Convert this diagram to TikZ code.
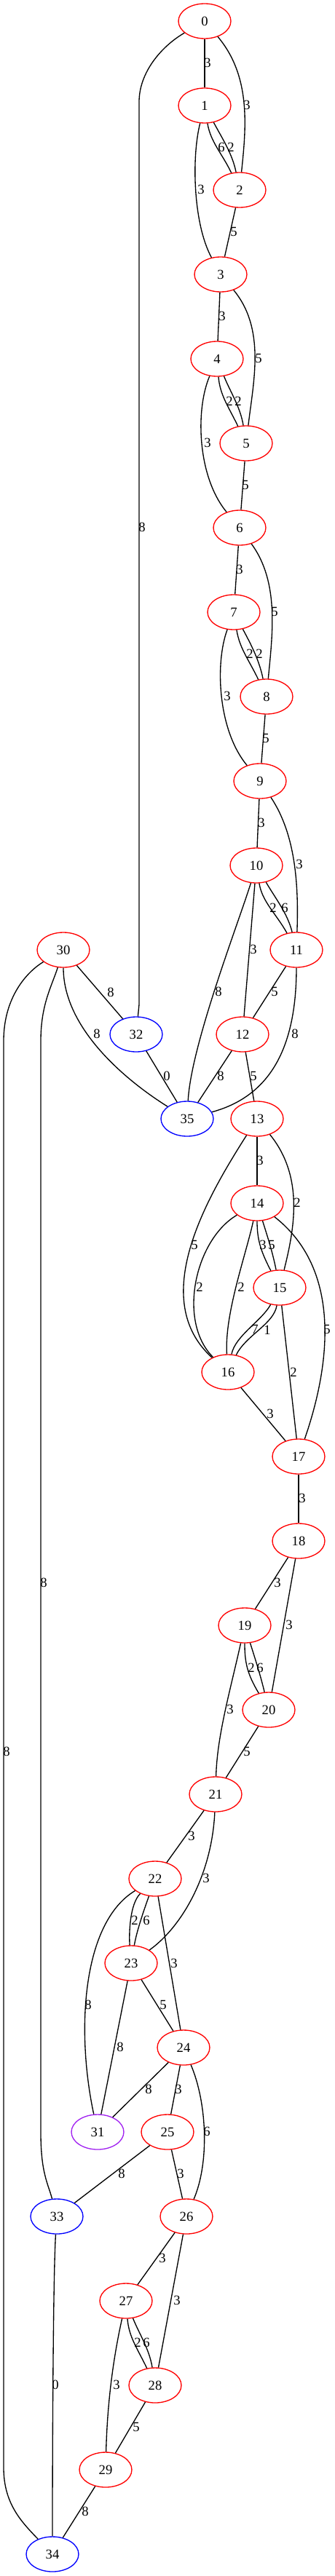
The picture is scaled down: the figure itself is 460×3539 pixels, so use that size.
\documentclass[tikz,border=0pt]{standalone}
\usepackage{fontspec}
\setmainfont{Liberation Serif}
\usetikzlibrary{shapes.geometric}
\definecolor{gvRed}{HTML}{FF0000}
\definecolor{gvBlue}{HTML}{0000FF}
\definecolor{gvPurple}{HTML}{A020F0}

\begin{document}
\begin{tikzpicture}[x=0.75pt,y=-0.75pt,
    font=\fontsize{14}{16}\selectfont,
    vtx/.style={ellipse,draw,line width=1pt,minimum width=54pt,
                minimum height=36pt,inner sep=0pt},
    redv/.style={vtx,draw=gvRed},
    bluev/.style={vtx,draw=gvBlue},
    purplev/.style={vtx,draw=gvPurple},
    link/.style={draw,line width=1pt},
    wt/.style={inner sep=0pt}]
  \useasboundingbox (0,0) rectangle (460,3539);
  % vertices
  \node[redv]    (n0)  at (281,29)   {0};
  \node[redv]    (n1)  at (281,145)  {1};
  \node[redv]    (n2)  at (329,261)  {2};
  \node[redv]    (n3)  at (303,377)  {3};
  \node[redv]    (n4)  at (298,493)  {4};
  \node[redv]    (n5)  at (338,609)  {5};
  \node[redv]    (n6)  at (329,725)  {6};
  \node[redv]    (n7)  at (321,841)  {7};
  \node[redv]    (n8)  at (366,957)  {8};
  \node[redv]    (n9)  at (357,1073) {9};
  \node[redv]    (n10) at (352,1189) {10};
  \node[redv]    (n11) at (407,1305) {11};
  \node[redv]    (n30) at (87,1305)  {30};
  \node[bluev]   (n32) at (187,1421) {32};
  \node[redv]    (n12) at (333,1421) {12};
  \node[bluev]   (n35) at (257,1537) {35};
  \node[redv]    (n13) at (353,1537) {13};
  \node[redv]    (n14) at (353,1653) {14};
  \node[redv]    (n15) at (384,1769) {15};
  \node[redv]    (n16) at (313,1885) {16};
  \node[redv]    (n17) at (410,2001) {17};
  \node[redv]    (n18) at (410,2117) {18};
  \node[redv]    (n19) at (336,2233) {19};
  \node[redv]    (n20) at (369,2349) {20};
  \node[redv]    (n21) at (296,2465) {21};
  \node[redv]    (n22) at (213,2581) {22};
  \node[redv]    (n23) at (180,2697) {23};
  \node[redv]    (n24) at (252,2813) {24};
  \node[purplev] (n31) at (134,2929) {31};
  \node[redv]    (n25) at (230,2929) {25};
  \node[bluev]   (n33) at (78,3045)  {33};
  \node[redv]    (n26) at (256,3045) {26};
  \node[redv]    (n27) at (173,3161) {27};
  \node[redv]    (n28) at (213,3277) {28};
  \node[redv]    (n29) at (145,3393) {29};
  \node[bluev]   (n34) at (72,3509)  {34};
  % edges
  \draw[link] (n0) -- (n1) node[wt] at (285,86) {3};
  \draw[link] (n0) .. controls +(64,76) and +(9,-86) .. (n2) node[wt] at (339,144) {3};
  \draw[link] (n0) .. controls +(-60,35) and (191,100) .. (191,140) -- (191,1380) -- (n32) node[wt] at (195,724) {8};
  \draw[link] (n1) .. controls +(8,50) and +(-24,-50) .. (n2) node[wt] at (304,202) {6};
  \draw[link] (n1) .. controls +(24,45) and +(-10,-50) .. (n2) node[wt] at (317,202) {2};
  \draw[link] (n1) .. controls +(-18,70) and +(-38,-70) .. (n3) node[wt] at (276,260) {3};
  \draw[link] (n2) -- (n3) node[wt] at (321,318) {5};
  \draw[link] (n3) -- (n4) node[wt] at (305,434) {3};
  \draw[link] (n3) .. controls +(62,75) and +(10,-85) .. (n5) node[wt] at (355,492) {5};
  \draw[link] (n4) .. controls +(4,50) and +(-24,-50) .. (n5) node[wt] at (315,551) {2};
  \draw[link] (n4) .. controls +(18,45) and +(-8,-50) .. (n5) node[wt] at (327,551) {2};
  \draw[link] (n4) .. controls +(-30,70) and +(-58,-70) .. (n6) node[wt] at (285,608) {3};
  \draw[link] (n5) -- (n6) node[wt] at (337,666) {5};
  \draw[link] (n6) -- (n7) node[wt] at (329,782) {3};
  \draw[link] (n6) .. controls +(55,75) and +(8,-85) .. (n8) node[wt] at (377,840) {5};
  \draw[link] (n7) .. controls +(8,50) and +(-24,-50) .. (n8) node[wt] at (343,898) {2};
  \draw[link] (n7) .. controls +(24,45) and +(-10,-50) .. (n8) node[wt] at (356,898) {2};
  \draw[link] (n7) .. controls +(-26,70) and +(-58,-70) .. (n9) node[wt] at (312,956) {3};
  \draw[link] (n8) -- (n9) node[wt] at (365,1014) {5};
  \draw[link] (n9) -- (n10) node[wt] at (359,1130) {3};
  \draw[link] (n9) .. controls +(50,75) and +(3,-85) .. (n11) node[wt] at (411,1187) {3};
  \draw[link] (n10) .. controls +(8,50) and +(-28,-50) .. (n11) node[wt] at (375,1247) {2};
  \draw[link] (n10) .. controls +(26,45) and +(-12,-50) .. (n11) node[wt] at (391,1247) {6};
  \draw[link] (n10) -- (n12) node[wt] at (348,1304) {3};
  \draw[link] (n10) .. controls +(-25,80) and +(5,-100) .. (n35) node[wt] at (300,1362) {8};
  \draw[link] (n11) -- (n12) node[wt] at (377,1362) {5};
  \draw[link] (n11) .. controls +(0,140) and +(110,-30) .. (n35) node[wt] at (405,1420) {8};
  \draw[link] (n30) -- (n32) node[wt] at (152,1363) {8};
  \draw[link] (n30) .. controls +(0,110) and +(-80,-50) .. (n35) node[wt] at (133,1420) {8};
  \draw[link] (n30) .. controls +(-16,50) and (56,1380) .. (56,1430) -- (56,2930)
                    .. controls (56,2985) and (66,3000) .. (n33) node[wt] at (60,2174) {8};
  \draw[link] (n30) .. controls +(-50,30) and (5,1370) .. (5,1430) -- (5,3390)
                    .. controls (5,3440) and (30,3465) .. (n34) node[wt] at (9,2406) {8};
  \draw[link] (n32) -- (n35) node[wt] at (229,1478) {0};
  \draw[link] (n12) -- (n35) node[wt] at (303,1478) {8};
  \draw[link] (n12) -- (n13) node[wt] at (348,1478) {5};
  \draw[link] (n13) -- (n14) node[wt] at (357,1594) {3};
  \draw[link] (n13) .. controls +(65,80) and +(20,-80) .. (n15) node[wt] at (408,1652) {2};
  \draw[link] (n13) .. controls +(-70,110) and +(-110,-100) .. (n16) node[wt] at (267,1710) {5};
  \draw[link] (n14) .. controls +(0,50) and +(-26,-50) .. (n15) node[wt] at (361,1710) {3};
  \draw[link] (n14) .. controls +(14,45) and +(-10,-50) .. (n15) node[wt] at (373,1710) {5};
  \draw[link] (n14) .. controls +(-85,50) and +(-70,-70) .. (n16) node[wt] at (274,1768) {2};
  \draw[link] (n14) .. controls +(-15,70) and +(-5,-80) .. (n16) node[wt] at (331,1768) {2};
  \draw[link] (n14) .. controls +(115,90) and +(45,-130) .. (n17) node[wt] at (449,1826) {5};
  \draw[link] (n15) .. controls +(-24,45) and +(10,-50) .. (n16) node[wt] at (350,1826) {7};
  \draw[link] (n15) .. controls +(-8,50) and +(24,-50) .. (n16) node[wt] at (367,1827) {1};
  \draw[link] (n15) -- (n17) node[wt] at (403,1885) {2};
  \draw[link] (n16) -- (n17) node[wt] at (371,1942) {3};
  \draw[link] (n17) -- (n18) node[wt] at (415,2058) {3};
  \draw[link] (n18) -- (n19) node[wt] at (381,2174) {3};
  \draw[link] (n18) -- (n20) node[wt] at (397,2232) {3};
  \draw[link] (n19) .. controls +(0,50) and +(-30,-50) .. (n20) node[wt] at (345,2291) {2};
  \draw[link] (n19) .. controls +(14,45) and +(-12,-50) .. (n20) node[wt] at (357,2291) {6};
  \draw[link] (n19) .. controls +(-20,90) and +(2,-80) .. (n21) node[wt] at (316,2348) {3};
  \draw[link] (n20) -- (n21) node[wt] at (339,2406) {5};
  \draw[link] (n21) -- (n22) node[wt] at (263,2522) {3};
  \draw[link] (n21) .. controls +(-5,110) and +(70,-50) .. (n23) node[wt] at (283,2580) {3};
  \draw[link] (n22) .. controls +(-35,35) and +(-3,-40) .. (n23) node[wt] at (185,2638) {2};
  \draw[link] (n22) .. controls +(-16,45) and +(8,-45) .. (n23) node[wt] at (201,2638) {6};
  \draw[link] (n22) -- (n24) node[wt] at (239,2697) {3};
  \draw[link] (n22) .. controls +(-100,60) and +(-30,-140) .. (n31) node[wt] at (121,2754) {8};
  \draw[link] (n23) -- (n24) node[wt] at (224,2754) {5};
  \draw[link] (n23) -- (n31) node[wt] at (165,2812) {8};
  \draw[link] (n24) -- (n31) node[wt] at (204,2870) {8};
  \draw[link] (n24) -- (n25) node[wt] at (245,2870) {3};
  \draw[link] (n24) .. controls +(32,75) and +(32,-75) .. (n26) node[wt] at (284,2928) {6};
  \draw[link] (n25) -- (n33) node[wt] at (167,2986) {8};
  \draw[link] (n25) -- (n26) node[wt] at (248,2986) {3};
  \draw[link] (n26) -- (n27) node[wt] at (223,3102) {3};
  \draw[link] (n26) -- (n28) node[wt] at (243,3160) {3};
  \draw[link] (n27) .. controls +(4,50) and +(-24,-50) .. (n28) node[wt] at (189,3218) {2};
  \draw[link] (n27) .. controls +(18,45) and +(-8,-50) .. (n28) node[wt] at (201,3218) {6};
  \draw[link] (n27) .. controls +(-20,90) and +(2,-80) .. (n29) node[wt] at (160,3276) {3};
  \draw[link] (n28) -- (n29) node[wt] at (187,3334) {5};
  \draw[link] (n29) -- (n34) node[wt] at (117,3450) {8};
  \draw[link] (n33) .. controls +(-5,80) and +(0,-150) .. (n34) node[wt] at (76,3276) {0};
\end{tikzpicture}
\end{document}
